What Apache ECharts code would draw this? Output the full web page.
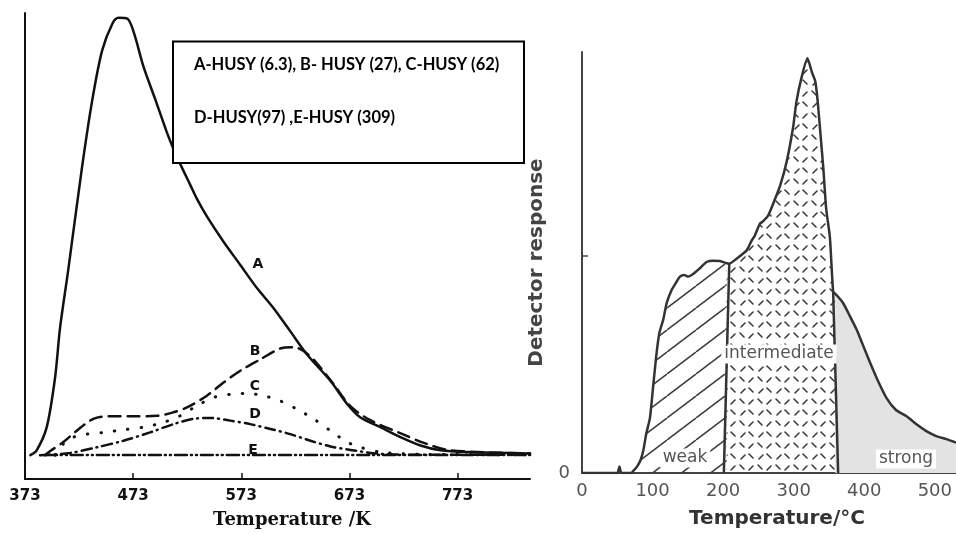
<!DOCTYPE html>
<html>
<head>
<meta charset="utf-8">
<script src="https://cdn.jsdelivr.net/npm/echarts@6/dist/echarts.min.js"></script>
<style>
  html, body { margin: 0; padding: 0; background: #fff; }
  #main { width: 956px; height: 534px; }
</style>
</head>
<body>
<div id="main"></div>
<script>
// left panel: TPD of HUSY samples (K)
var kTickValues = [373, 473, 573, 673, 773];

var tempA = [378, 383.8, 393.1, 400.8, 405.4, 412.9, 425.5, 435, 444.3, 453.9, 459.5, 467.6, 473.8, 482.5, 493.4, 504.2, 510, 516.5, 525.8, 532, 541.2, 556.6, 572.1, 587.5, 602.9, 618.4, 633.8, 655.4, 670.9, 683.2, 701.7, 720.2, 738.7, 757.3, 781.9, 840];
var sigA  = [0, 1.1, 6.4, 17.7, 29.1, 42.2, 65.4, 80.9, 92.5, 98.7, 100, 99.8, 96.5, 88.9, 81.4, 73.8, 70.2, 66.6, 61.8, 58.6, 54.6, 48.8, 43.5, 38.2, 33.6, 28.3, 23.0, 17.0, 11.7, 8.6, 6.4, 4.1, 2.2, 1.1, 0.7, 0.4];

var tempB = [391.5, 396.1, 408.5, 420.9, 436.2, 451.7, 470.2, 494.9, 510.3, 522.7, 541.2, 556.6, 572.1, 590.6, 609.1, 621.4, 630.7, 641.5, 658.2, 673.9, 692.4, 723.3, 741.8, 766.5, 840];
var sigB  = [0, 0.9, 3.0, 5.6, 8.3, 8.9, 8.9, 9.0, 9.8, 10.9, 13.6, 16.6, 19.3, 21.9, 24.4, 24.7, 23.8, 21.4, 16.3, 11.2, 8.0, 4.7, 2.8, 1.1, 0.4];

var tempC = [400.8, 408.5, 417.7, 430.1, 445.5, 464, 482.5, 501.1, 516.5, 532, 547.4, 562.8, 578.3, 593.6, 609.1, 624.6, 639.9, 655.4, 670.9, 683.2, 701.7, 738.7, 840];
var sigC  = [0, 2.6, 4.1, 4.8, 5.2, 5.8, 6.4, 7.5, 9.0, 11.3, 13.2, 13.9, 14.1, 13.6, 12.4, 10.5, 8.3, 5.6, 3.0, 1.8, 0.7, 0.2, 0.1];

var tempD = [386.9, 414.7, 439.4, 464, 488.7, 510.3, 528.8, 544.3, 562.8, 581.3, 599.9, 618.4, 636.9, 655.4, 673.9, 701.7, 738.7, 840];
var sigD  = [0, 0.5, 1.8, 3.3, 5.2, 7.1, 8.3, 8.5, 7.9, 7.1, 6.0, 4.8, 3.3, 2.0, 1.2, 0.3, 0.1, 0.1];

var tempE = [391.5, 840];
var sigE  = [0.05, 0.05];

// right panel: detector response vs temperature (C)
var cTickValues = [0, 100, 200, 300, 400, 500];
var rTemp = [0, 50, 53, 56, 70, 72.7, 77.5, 83, 86.8, 91, 96.3, 101, 105.8, 110, 115.2, 120, 127, 132, 138.8, 145, 150.6, 158, 166, 176.6, 186, 195.5, 205, 208.7, 219, 228, 233.3, 240.4, 245, 252, 256, 264, 272, 281, 290, 299, 304, 311, 319.5, 326, 330.5, 334, 338, 342, 346, 351.3, 355.9, 359, 362, 370, 380, 389, 398, 408, 420, 431.6, 445, 460, 475, 488, 502, 516.6, 530];
var rResp = [0, 0, 0.03, 0, 0, 0.01, 0.027, 0.06, 0.102, 0.18, 0.254, 0.405, 0.556, 0.65, 0.707, 0.783, 0.843, 0.87, 0.904, 0.912, 0.905, 0.918, 0.94, 0.972, 0.978, 0.976, 0.966, 0.964, 0.987, 1.01, 1.025, 1.07, 1.094, 1.148, 1.158, 1.187, 1.249, 1.326, 1.434, 1.589, 1.712, 1.82, 1.91, 1.844, 1.805, 1.712, 1.558, 1.403, 1.218, 1.085, 0.836, 0.825, 0.815, 0.783, 0.72, 0.662, 0.59, 0.51, 0.42, 0.345, 0.29, 0.261, 0.222, 0.193, 0.17, 0.156, 0.14];
var weakEnd = 205;
var strongStart = 359;
var divWeakT = [201, 208.7];
var divWeakR = [0, 0.964];
var divStrongT = [363, 355.9];
var divStrongR = [0, 0.836];

function zip(xs, ys) {
  return xs.map(function (x, i) { return [x, ys[i]]; });
}

// hatch for weak sites
function weakPattern() {
  var c = document.createElement('canvas');
  c.width = 29; c.height = 22;
  var g = c.getContext('2d');
  g.strokeStyle = '#3a3a3a';
  g.lineWidth = 1.5;
  [-29, 0, 29].forEach(function (dx) {
    g.beginPath(); g.moveTo(dx, 22); g.lineTo(dx + 29, 0); g.stroke();
  });
  return c;
}
// short dashes for intermediate sites
function interPattern() {
  var c = document.createElement('canvas');
  c.width = 18; c.height = 22;
  var g = c.getContext('2d');
  g.strokeStyle = '#3a3a3a';
  g.lineWidth = 1.6;
  g.lineCap = 'round';
  var strokes = [[2, 3, 6, 7], [11, 8, 15, 4], [3, 19, 7, 15], [11, 14, 15, 18]];
  strokes.forEach(function (s) {
    g.beginPath(); g.moveTo(s[0], s[1]); g.lineTo(s[2], s[3]); g.stroke();
  });
  return c;
}

var curve = zip(rTemp, rResp);
var weakPts = curve.filter(function (p) { return p[0] <= weakEnd; });
var interPts = curve.filter(function (p) { return p[0] >= weakEnd && p[0] <= strongStart; });
var strongPts = curve.filter(function (p) { return p[0] >= strongStart; });

var chart = echarts.init(document.getElementById('main'));

function kLine(name, xs, ys, type, width) {
  return {
    name: name,
    type: 'line',
    xAxisIndex: 0,
    yAxisIndex: 0,
    data: zip(xs, ys),
    showSymbol: false,
    smooth: 0.3,
    z: 3,
    lineStyle: { color: '#111', width: width || 2.5, type: type, cap: 'round' }
  };
}

function areaPart(pts, fill) {
  return {
    type: 'line',
    xAxisIndex: 1,
    yAxisIndex: 1,
    data: pts,
    showSymbol: false,
    smooth: 0.2,
    z: 1,
    lineStyle: { width: 0 },
    areaStyle: { color: fill, opacity: 1 }
  };
}

function divider(xs, ys) {
  return {
    type: 'line',
    xAxisIndex: 1,
    yAxisIndex: 1,
    data: zip(xs, ys),
    showSymbol: false,
    z: 4,
    lineStyle: { color: '#333', width: 2.5 }
  };
}

var curveLabel = function (t, x, y) {
  return {
    type: 'text', x: x, y: y, z: 100,
    style: { text: t, font: 'bold 14px "DejaVu Sans"', fill: '#111', textAlign: 'center', textVerticalAlign: 'middle' }
  };
};
var siteLabel = function (t, x, y) {
  return {
    type: 'text', x: x, y: y, z: 100,
    style: { text: t, font: '17px "DejaVu Sans"', fill: '#555', textAlign: 'center', textVerticalAlign: 'middle',
             backgroundColor: '#fff', padding: [1, 3] }
  };
};

chart.setOption({
  animation: false,
  backgroundColor: '#fff',
  grid: [
    { left: 25, top: 13, width: 505, height: 469 },
    { left: 582, top: 52, width: 374, height: 427.5 }
  ],
  xAxis: [
    {
      gridIndex: 0,
      type: 'value',
      min: 373,
      max: 840,
      name: 'Temperature /K',
      nameLocation: 'middle',
      nameGap: 32,
      nameTextStyle: { fontFamily: 'DejaVu Serif', fontWeight: 'bold', fontSize: 18, color: '#111', padding: [0, 0, 0, 29] },
      axisLine: { onZero: false, lineStyle: { color: '#111', width: 2 } },
      axisTick: { show: true, inside: true, length: 6, customValues: kTickValues, lineStyle: { color: '#111', width: 1.5 } },
      axisLabel: { customValues: kTickValues, margin: 10, color: '#111', fontFamily: 'DejaVu Sans', fontWeight: 'bold', fontSize: 15 },
      splitLine: { show: false }
    },
    {
      gridIndex: 1,
      type: 'value',
      min: 0,
      max: 530,
      interval: 100,
      name: 'Temperature/°C',
      nameLocation: 'middle',
      nameGap: 36,
      nameTextStyle: { fontFamily: 'DejaVu Sans', fontWeight: 'bold', fontSize: 20, color: '#333', padding: [0, 0, 0, 16] },
      axisLine: { onZero: false, lineStyle: { color: '#444', width: 2 } },
      axisTick: { show: false },
      axisLabel: { customValues: cTickValues, margin: 9, color: '#555', fontFamily: 'DejaVu Sans', fontSize: 18 },
      splitLine: { show: false }
    }
  ],
  yAxis: [
    {
      gridIndex: 0,
      type: 'value',
      min: -5.45,
      max: 101.1,
      axisLine: { show: true, onZero: false, lineStyle: { color: '#111', width: 2 } },
      axisTick: { show: false },
      axisLabel: { show: false },
      splitLine: { show: false }
    },
    {
      gridIndex: 1,
      type: 'value',
      min: 0,
      max: 1.939,
      name: 'Detector response',
      nameLocation: 'middle',
      nameGap: 35,
      nameTextStyle: { fontFamily: 'DejaVu Sans', fontWeight: 'bold', fontSize: 20, color: '#444' },
      axisLine: { show: true, onZero: false, lineStyle: { color: '#444', width: 2 } },
      axisTick: { show: true, inside: true, length: 6, customValues: [0, 1], lineStyle: { color: '#444', width: 1.5 } },
      axisLabel: { customValues: [0], margin: 12, color: '#555', fontFamily: 'DejaVu Sans', fontSize: 18 },
      splitLine: { show: false }
    }
  ],
  series: [
    kLine('A', tempA, sigA, 'solid'),
    kLine('B', tempB, sigB, [12, 7]),
    kLine('C', tempC, sigC, [0.5, 13], 3),
    kLine('D', tempD, sigD, [10, 5, 1, 5]),
    kLine('E', tempE, sigE, [12, 4, 1, 4, 1, 4]),
    areaPart(weakPts, { image: weakPattern(), repeat: 'repeat' }),
    areaPart(interPts, { image: interPattern(), repeat: 'repeat' }),
    areaPart(strongPts, '#e3e3e3'),
    {
      type: 'line',
      xAxisIndex: 1,
      yAxisIndex: 1,
      data: curve,
      showSymbol: false,
      smooth: 0.2,
      z: 4,
      lineStyle: { color: '#333', width: 2.5 }
    },
    divider(divWeakT, divWeakR),
    divider(divStrongT, divStrongR)
  ],
  graphic: [
    { type: 'rect', z: 100, shape: { x: 173, y: 41.5, width: 351, height: 121.5 },
      style: { fill: '#fff', stroke: '#000', lineWidth: 2 } },
    { type: 'text', x: 194, y: 65, z: 101,
      style: { text: 'A-HUSY (6.3), B- HUSY (27), C-HUSY (62)', font: 'bold 16.5px Lato', fill: '#000', textVerticalAlign: 'middle' } },
    { type: 'text', x: 194, y: 118, z: 101,
      style: { text: 'D-HUSY(97) ,E-HUSY (309)', font: 'bold 16.5px Lato', fill: '#000', textVerticalAlign: 'middle' } },
    curveLabel('A', 258, 264),
    curveLabel('B', 255, 351),
    curveLabel('C', 255, 386),
    curveLabel('D', 255, 414),
    curveLabel('E', 253, 450),
    siteLabel('weak', 685, 458),
    siteLabel('intermediate', 779, 354),
    siteLabel('strong', 906, 459)
  ]
});
</script>
</body>
</html>
